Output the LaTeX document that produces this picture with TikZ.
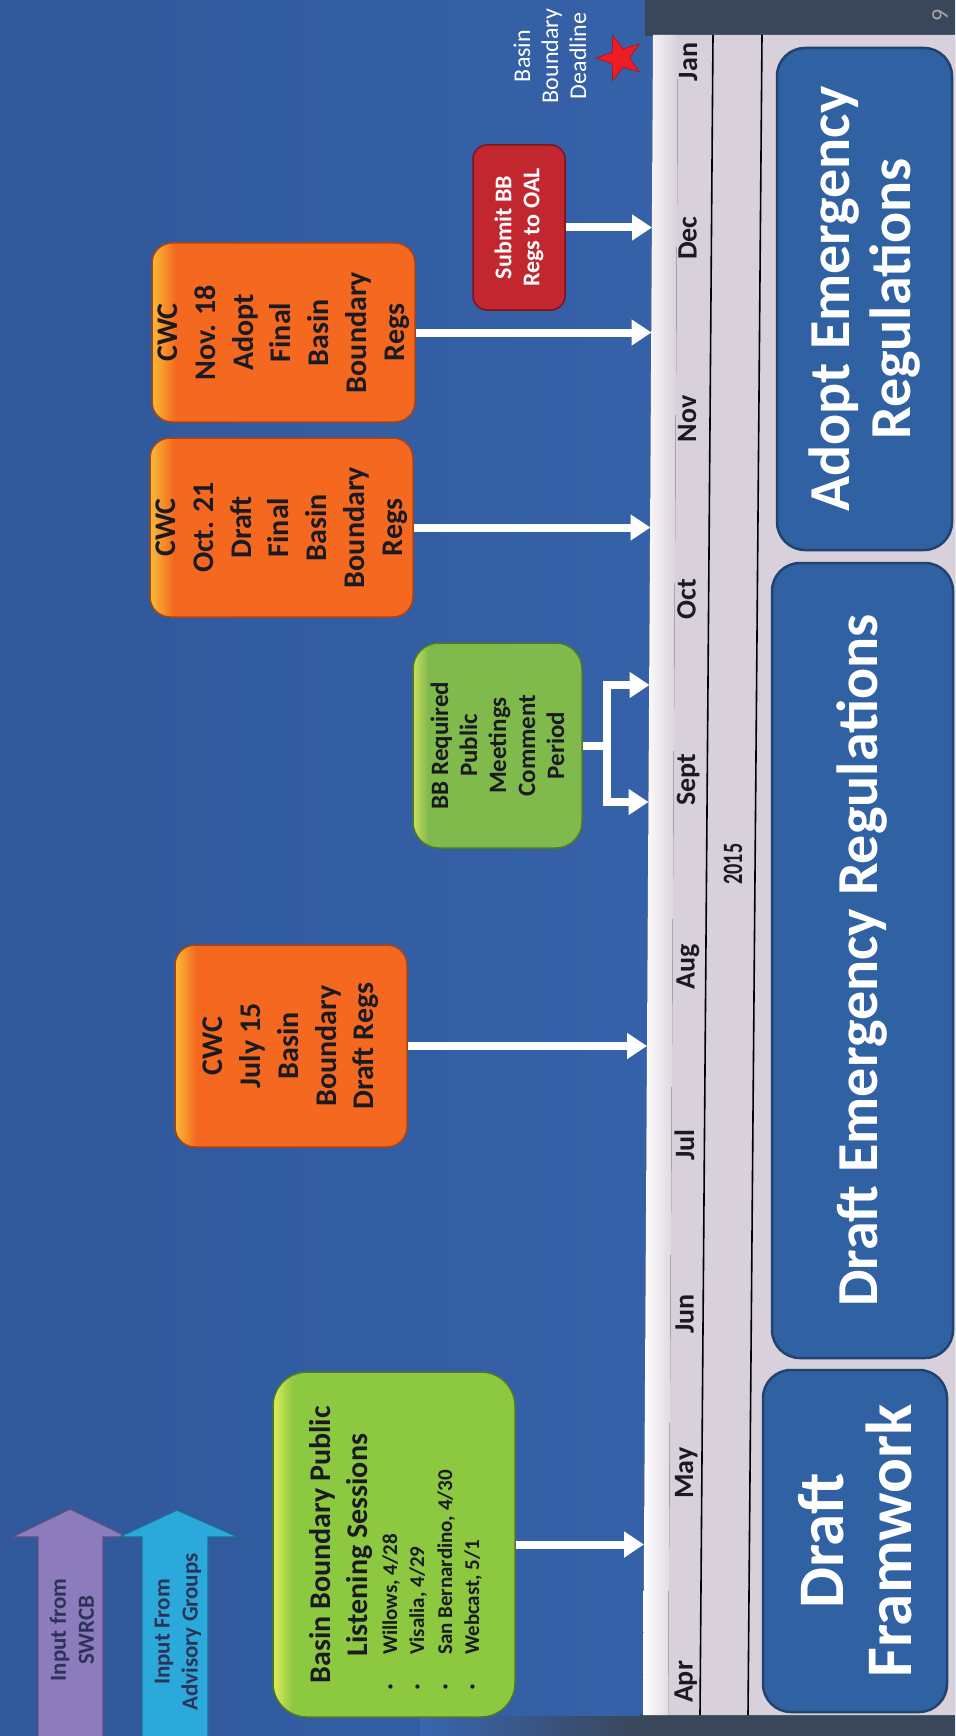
\documentclass[tikz,border=0pt]{standalone}
\usepackage{fontspec}
\setmainfont{Carlito}
\usepackage{graphicx}
\usetikzlibrary{arrows.meta,shapes.geometric}
\definecolor{bgL}{HTML}{30589A}
\definecolor{bgR}{HTML}{3866B0}
\definecolor{darkC}{HTML}{3A4659}
\definecolor{barC}{HTML}{D8D0DA}
\definecolor{blueBox}{HTML}{3062A3}
\definecolor{blueBoxD}{HTML}{22426F}
\definecolor{orC}{HTML}{F4691F}
\definecolor{orL}{HTML}{F9B233}
\definecolor{orD}{HTML}{A8441A}
\definecolor{grA}{HTML}{8CC840}
\definecolor{grAL}{HTML}{D6E85A}
\definecolor{grB}{HTML}{80B94C}
\definecolor{grBL}{HTML}{C4DC5C}
\definecolor{grD}{HTML}{4F7A2A}
\definecolor{redC}{HTML}{C2262E}
\definecolor{redD}{HTML}{7E1419}
\definecolor{purC}{HTML}{8C7CBE}
\definecolor{cyanC}{HTML}{2BA9DB}
\definecolor{txtD}{HTML}{1A1A20}
\definecolor{arrTxt}{HTML}{2D3358}
\definecolor{starC}{HTML}{EE1C24}
\pgfdeclarehorizontalshading{orsh}{100bp}{color(0bp)=(orL); color(25.5bp)=(orL); color(29.5bp)=(orC); color(100bp)=(orC)}
\pgfdeclarehorizontalshading{grsh}{100bp}{color(0bp)=(grAL); color(25.5bp)=(grAL); color(29bp)=(grA); color(100bp)=(grA)}
\pgfdeclarehorizontalshading{gbsh}{100bp}{color(0bp)=(grBL); color(25.5bp)=(grBL); color(29.5bp)=(grB); color(100bp)=(grB)}
\begin{document}
\begin{tikzpicture}[x=1pt,y=-1pt,
  mlbl/.style={rotate=90, anchor=base, inner sep=0, text=txtD,
    font=\bfseries\fontsize{28}{32}\selectfont},
  obox/.style={rotate=90, rounded corners=20pt, shading=orsh, draw=orD,
    line width=1.5pt, align=center, text=txtD, inner sep=0,
    font=\bfseries\fontsize{30}{37.8}\selectfont},
  gbox/.style={rotate=90, rounded corners=26pt, shading=gbsh, draw=grD,
    line width=1.5pt, align=center, text=txtD, inner sep=0,
    font=\bfseries\fontsize{25}{29}\selectfont},
  rbox/.style={rotate=90, rounded corners=14pt, fill=redC, draw=redD,
    line width=1.5pt, align=center, text=white, inner sep=0,
    font=\bfseries\fontsize{24}{28}\selectfont},
  bbox/.style={rotate=90, rounded corners=28pt, fill=blueBox, draw=blueBoxD,
    line width=2.5pt, align=center, text=white, inner sep=0},
  atxt/.style={rotate=90, align=center, text=arrTxt, inner sep=0,
    font=\bfseries\fontsize{23}{28}\selectfont},
  btxt/.style={rotate=90, anchor=base west, inner sep=0, text=txtD,
    font=\bfseries\fontsize{21}{25}\selectfont},
  wa/.style={draw=white, line width=8pt, line join=miter,
    -{Triangle[length=20pt,width=25pt]}},
]
\useasboundingbox (0,0) rectangle (955,1736);
% background
\fill[left color=bgL, right color=bgR] (0,0) rectangle (955,1736);
\fill[darkC] (645,0) rectangle (955,36);
\fill[darkC] (640,1714) rectangle (955,1736);
\fill[left color=bgR, right color=darkC] (420,1716) rectangle (641,1736);
% timeline bar
\fill[barC] (653,35) -- (955,35) -- (955,1715) -- (643,1715) -- cycle;
\fill[left color=white, right color=barC] (653,35) -- (678,35) -- (668,1715) -- (643,1715) -- cycle;
\draw[black, line width=1.6pt] (713,35) -- (700,1715);
\draw[black, line width=1.6pt] (762,35) -- (748,1715);
% month labels
\node[mlbl] (jan) at (697,62) {Jan};
\node[mlbl] (dec) at (696.5,238) {Dec};
\node[mlbl] (nov) at (696,419) {Nov};
\node[mlbl] (oct) at (695.5,599) {Oct};
\node[mlbl] (sep) at (695,780) {Sept};
\node[mlbl] (aug) at (694.5,967) {Aug};
\node[mlbl] (jul) at (694,1145) {Jul};
\node[mlbl] (jun) at (693.5,1314) {Jun};
\node[mlbl] (may) at (693,1473) {May};
\node[mlbl] (apr) at (692.5,1682) {Apr};
\node[mlbl, font=\bfseries\fontsize{28}{32}\selectfont] (yr) at (742,864) {\scalebox{0.72}[1]{2015}};
% phase boxes
\node[bbox, minimum width=502, minimum height=175,
  font=\bfseries\fontsize{58}{61}\selectfont] (adopt) at (864.5,299) {Adopt Emergency\\Regulations};
\node[bbox, minimum width=795, minimum height=181,
  font=\bfseries\fontsize{58}{61}\selectfont] (draftem) at (862.5,960.5) {Draft Emergency Regulations};
\node[bbox, minimum width=342, minimum height=184,
  font=\bfseries\fontsize{65}{68}\selectfont] (draftfw) at (855,1541) {Draft\\Framwork};
% input arrows
\fill[purC, draw=purC!65!black, line width=1.2pt] (38,1740) -- (38,1537) -- (12,1537) -- (70,1509) -- (128,1537) -- (103,1537) -- (103,1740) -- cycle;
\fill[cyanC, draw=cyanC!65!black, line width=1.2pt] (142,1740) -- (142,1537) -- (119,1537) -- (177,1510) -- (238,1537) -- (208,1537) -- (208,1740) -- cycle;
\node[atxt] (swrcb) at (72,1630) {Input from\\SWRCB};
\node[atxt] (advis) at (178,1632) {Input From\\Advisory Groups};
% basin boundary public listening sessions
\node[rotate=90, rounded corners=34pt, shading=grsh, draw=grD, line width=1.5pt,
  minimum width=345, minimum height=242] (basin) at (394,1544.5) {};
\node[rotate=90, align=center, inner sep=0, text=txtD,
  font=\bfseries\fontsize{30}{37}\selectfont] (basintitle) at (341.5,1545) {Basin Boundary Public\\Listening Sessions};
\node[btxt] (b1) at (397,1655) {Willows, 4/28};
\node[btxt] (b2) at (424,1655) {Visalia, 4/29};
\node[btxt] (b3) at (452,1655) {San Bernardino, 4/30};
\node[btxt] (b4) at (479,1655) {Webcast, 5/1};
\foreach \xx/\nm in {391/d1,418/d2,446/d3,473/d4}
  \node[rotate=90, inner sep=0, text=txtD, font=\bfseries\fontsize{10}{10}\selectfont] (\nm) at (\xx,1687) {•};
% event boxes
\node[obox, minimum width=202, minimum height=232] (jul15) at (291,1046) {CWC\\July 15\\Basin\\Boundary\\Draft Regs};
\node[gbox, minimum width=205, minimum height=169] (bb) at (497.5,745.5) {BB Required\\Public\\Meetings\\Comment\\Period};
\node[obox, minimum width=179, minimum height=263] (oct21) at (281.5,527.5) {CWC\\Oct. 21\\Draft\\Final\\Basin\\Boundary\\Regs};
\node[obox, minimum width=179, minimum height=263] (nov18) at (283.5,332.5) {CWC\\Nov. 18\\Adopt\\Final\\Basin\\Boundary\\Regs};
\node[rbox, minimum width=165, minimum height=92] (submit) at (519,227.5) {Submit BB\\Regs to OAL};
% deadline
\node[rotate=90, align=center, inner sep=0, text=white,
  font=\fontsize{24}{28}\selectfont] (deadline) at (550,56) {Basin\\Boundary\\Deadline};
\node[star, star points=5, star point ratio=2.5, fill=starC, draw=starC!70!black,
  line width=0.6pt, minimum size=48pt, inner sep=0, rotate=90] (star) at (620,58) {};
\node[rotate=90, inner sep=0, text=gray!70, font=\fontsize{24}{24}\selectfont] (pnum) at (940,15) {9};
% arrow targets on the timeline
\coordinate (tDec) at (652,227.5);
\coordinate (tNov) at (651.5,332.5);
\coordinate (tOct) at (650.5,527.5);
\coordinate (tBBa) at (649.5,685);
\coordinate (tBBb) at (648.5,802);
\coordinate (tJul) at (647,1046);
\coordinate (tMay) at (644,1544.5);
\coordinate (bbj) at (607,745.5);
% connectors
\draw[wa] (submit.south) -- (tDec);
\draw[wa] (nov18.south) -- (tNov);
\draw[wa] (oct21.south) -- (tOct);
\draw[wa] (jul15.south) -- (tJul);
\draw[wa] (basin.south) -- (tMay);
\draw[wa] (bb.south) -- (bbj) |- (tBBa);
\draw[wa] (bb.south) -- (bbj) |- (tBBb);
\end{tikzpicture}
\end{document}
